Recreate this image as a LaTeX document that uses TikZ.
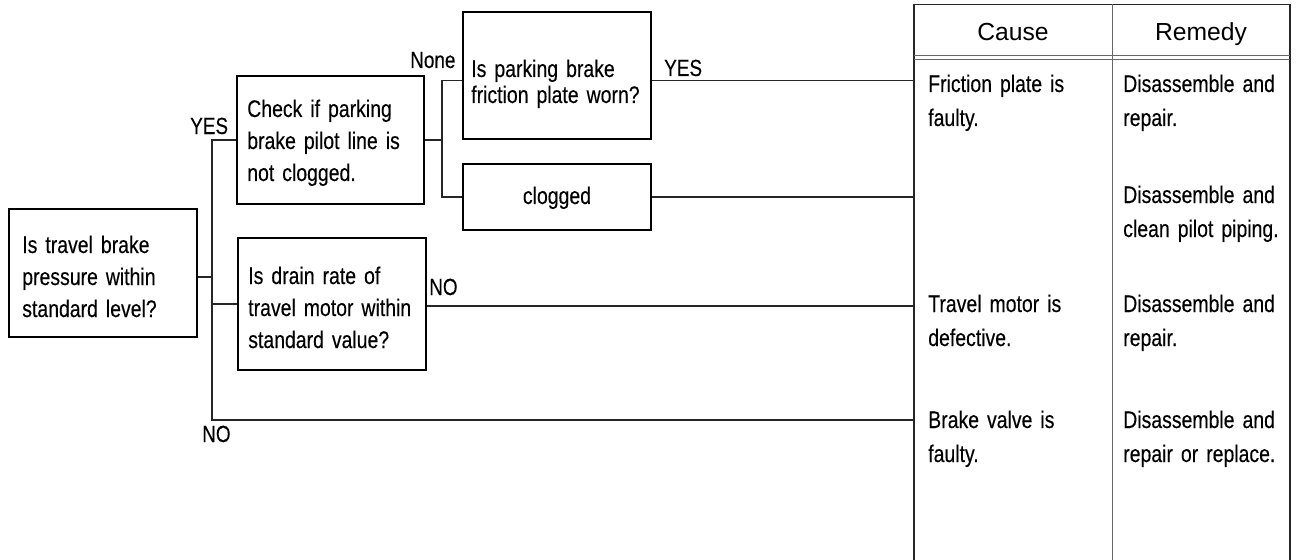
\documentclass[tikz,border=0pt]{standalone}
\usepackage{fontspec}
\setmainfont{Liberation Sans}
\newfontfamily\narrowfont[FakeStretch=0.81,WordSpace=0.7,FakeBold=0.25]{Liberation Sans}
\begin{document}
\begin{tikzpicture}[x=0.75pt,y=-0.75pt,
  box/.style={draw=black, line width=1.1pt, inner sep=0pt},
  txt/.style={font=\narrowfont\fontsize{18}{24}\selectfont, text width=150pt, align=left, inner sep=0pt, anchor=base west},
  ttxt/.style={font=\narrowfont\fontsize{18}{25.5}\selectfont, text width=150pt, align=left, inner sep=0pt, anchor=base west},
  lbl/.style={font=\narrowfont\fontsize{17.5}{20}\selectfont, inner sep=0pt, anchor=base west},
  hdr/.style={font=\fontsize{18.5}{20}\selectfont, inner sep=0pt, anchor=base},
  con/.style={draw=black!85, line width=0.8pt},
  tab/.style={draw=black!85, line width=1.1pt},
  thin/.style={draw=black!60, line width=0.75pt}]
\useasboundingbox (0,0) rectangle (1297,560);
\fill[white] (0,0) rectangle (1297,560);

% boxes
\node[box, minimum width=141pt, minimum height=96pt] (A) at (103,273) {};
\node[box, minimum width=140.25pt, minimum height=96pt] (B) at (330.5,140) {};
\node[box, minimum width=141pt, minimum height=99pt] (C) at (332,304) {};
\node[box, minimum width=141pt, minimum height=95.25pt] (D) at (557,75.5) {};
\node[box, minimum width=141pt, minimum height=49.5pt] (E) at (557,197) {};

% box texts
\node[txt] (At) at (22,253) {Is travel brake\\pressure within\\standard level?};
\node[txt] (Bt) at (247,117) {Check if parking\\brake pilot line is\\not clogged.};
\node[txt] (Ct) at (248,284) {Is drain rate of\\travel motor within\\standard value?};
\node[txt, font=\narrowfont\fontsize{18}{19.5}\selectfont] (Dt) at (471,77) {Is parking brake\\friction plate worn?};
\node[lbl, font=\narrowfont\fontsize{18}{20}\selectfont, anchor=base] (Et) at (557,204) {clogged};

% labels
\node[lbl] (lnone) at (410,68) {None};
\node[lbl] (lyes1) at (190,134) {YES};
\node[lbl] (lyes2) at (664,76) {YES};
\node[lbl] (lno1) at (429,295) {NO};
\node[lbl] (lno2) at (202,442) {NO};

% junction coordinates
\coordinate (v1) at (212,0);
\coordinate (v2) at (442,0);
\coordinate (tl) at (914,0);
\coordinate (nob) at (212,420);

% connectors
\draw[con] ([yshift=-3pt]A.east) -- ([yshift=-3pt]A.east -| v1);
\draw[con] (B.west) -- (B.west -| v1) -- (nob) -- (nob -| tl);
\draw[con] (C.west) -- (C.west -| v1);
\draw[con] ([yshift=-1.5pt]C.east) -- ([yshift=-1.5pt]C.east -| tl);
\draw[con] (B.east) -- (B.east -| v2);
\draw[con] ([yshift=-4pt]D.west) -- ([yshift=-4pt]D.west -| v2) -- (v2 |- E.west) -- (E.west);
\draw[con] ([yshift=-4pt]D.east) -- ([yshift=-4pt]D.east -| tl);
\draw[con] (E.east) -- (E.east -| tl);

% table
\draw[tab] (914,570) -- (914,4.5) -- (1290,4.5) -- (1290,570);
\draw[thin] (1112,4.5) -- (1112,570);
\draw[thin] (914,56) -- (1290,56) (914,60) -- (1290,60);

\node[hdr] (hcause) at (1013,41) {Cause};
\node[hdr] (hremedy) at (1201,41) {Remedy};

\node[ttxt] (c1) at (928,92) {Friction plate is\\faulty.};
\node[ttxt] (c3) at (928,312) {Travel motor is\\defective.};
\node[ttxt] (c4) at (928,428) {Brake valve is\\faulty.};

\node[ttxt] (r1) at (1123,92) {Disassemble and\\repair.};
\node[ttxt] (r2) at (1123,203) {Disassemble and\\clean pilot piping.};
\node[ttxt] (r3) at (1123,312) {Disassemble and\\repair.};
\node[ttxt] (r4) at (1123,428) {Disassemble and\\repair or replace.};
\end{tikzpicture}
\end{document}
